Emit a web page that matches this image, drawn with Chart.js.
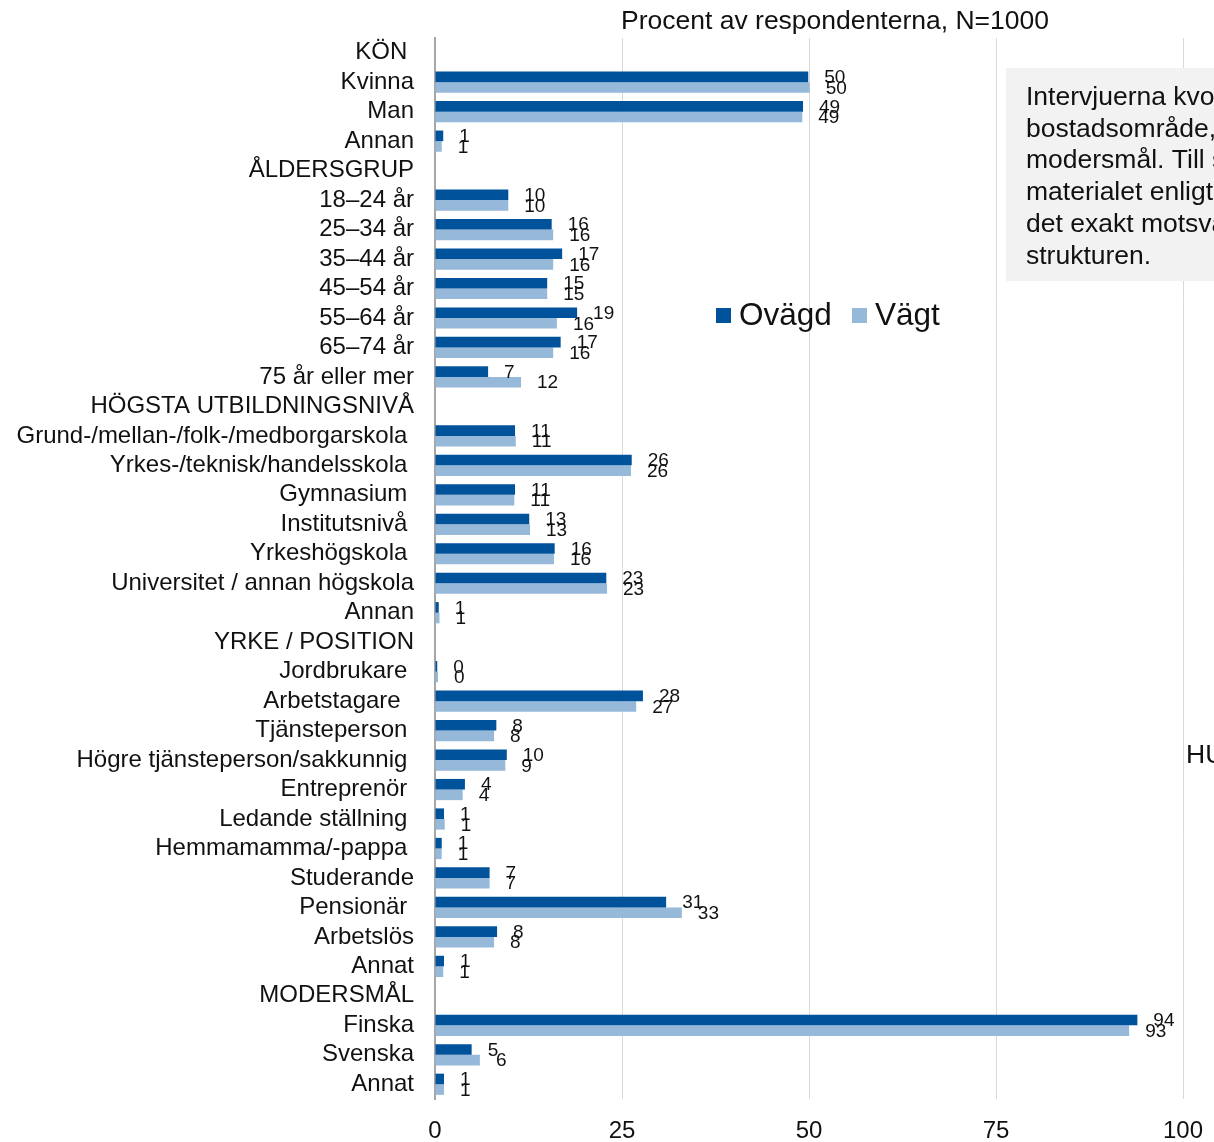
<!DOCTYPE html>
<html>
<head>
<meta charset="utf-8">
<script src="https://cdn.jsdelivr.net/npm/chart.js@4"></script>
<style>
html,body{margin:0;padding:0;background:#fff;overflow:hidden;}
#wrap{width:1214px;height:1142px;position:relative;}
</style>
</head>
<body>
<div id="wrap"><canvas id="c" width="1214" height="1142"></canvas></div>
<script>
const categories = [
  "KÖN ", "Kvinna", "Man", "Annan",
  "ÅLDERSGRUP", "18–24 år", "25–34 år", "35–44 år", "45–54 år", "55–64 år", "65–74 år", "75 år eller mer",
  "HÖGSTA UTBILDNINGSNIVÅ", "Grund-/mellan-/folk-/medborgarskola ", "Yrkes-/teknisk/handelsskola ", "Gymnasium ",
  "Institutsnivå ", "Yrkeshögskola ", "Universitet / annan högskola", "Annan",
  "YRKE / POSITION", "Jordbrukare ", "Arbetstagare  ", "Tjänsteperson ", "Högre tjänsteperson/sakkunnig ",
  "Entreprenör ", "Ledande ställning ", "Hemmamamma/-pappa ", "Studerande", "Pensionär ", "Arbetslös", "Annat",
  "MODERSMÅL", "Finska", "Svenska", "Annat"
];
const ovagd = [null,49.9,49.2,1.1, null,9.8,15.6,17.0,15.0,19.0,16.8,7.1,
  null,10.7,26.3,10.7,12.6,16.0,22.9,0.5,
  null,0.3,27.8,8.2,9.6,4.0,1.2,0.9,7.3,30.9,8.3,1.2,
  null,93.9,4.9,1.2];
const vagt = [null,50.1,49.1,0.9, null,9.8,15.8,15.8,15.0,16.3,15.8,11.5,
  null,10.8,26.2,10.6,12.7,15.9,23.0,0.6,
  null,0.4,26.9,7.9,9.4,3.7,1.3,0.9,7.3,33.0,7.9,1.1,
  null,92.8,6.0,1.2];
const seriesNames = ["Ovägd", "Vägt"];
const xTicks = [0, 25, 50, 75, 100];
const titleText = "Procent av respondenterna, N=1000";
const noteLines = ["Intervjuerna kvoterades", "bostadsområde, ålder,", "modersmål. Till slut", "materialet enligt", "det exakt motsvarar", "strukturen."];
const sideText = "HU";

const DARK = "#00529b";
const LIGHT = "#96b9da";
const FONT = "'Liberation Sans', Arial, sans-serif";

const extras = {
  id: 'extras',
  afterDatasetsDraw(chart) {
    const ctx = chart.ctx;
    ctx.save();
    // data labels
    ctx.font = "19px " + FONT;
    ctx.fillStyle = "#111";
    ctx.textAlign = "left";
    ctx.textBaseline = "middle";
    chart.data.datasets.forEach((ds, di) => {
      const meta = chart.getDatasetMeta(di);
      meta.data.forEach((bar, i) => {
        const v = ds.data[i];
        if (v === null || v === undefined) return;
        ctx.fillText(String(Math.round(v)), bar.x + 16, bar.y + 1);
      });
    });
    // title
    ctx.font = "26.5px " + FONT;
    ctx.textAlign = "center";
    ctx.fillText(titleText, 835, 22);
    // legend
    ctx.font = "31.5px " + FONT;
    ctx.textAlign = "left";
    ctx.fillStyle = DARK;
    ctx.fillRect(716, 308, 15, 15);
    ctx.fillStyle = "#111";
    ctx.fillText(seriesNames[0], 739, 316);
    ctx.fillStyle = LIGHT;
    ctx.fillRect(852, 308, 15, 15);
    ctx.fillStyle = "#111";
    ctx.fillText(seriesNames[1], 875, 316);
    // note box
    ctx.fillStyle = "#f2f2f2";
    ctx.fillRect(1006, 68, 260, 213);
    ctx.fillStyle = "#111";
    ctx.font = "26.5px " + FONT;
    noteLines.forEach((t, k) => ctx.fillText(t, 1026, 97.5 + k * 31.8));
    ctx.fillText(sideText, 1186, 756);
    ctx.restore();
  }
};

new Chart(document.getElementById('c'), {
  type: 'bar',
  data: {
    labels: categories,
    datasets: [
      { label: seriesNames[0], data: ovagd, backgroundColor: DARK, borderWidth: 0 },
      { label: seriesNames[1], data: vagt, backgroundColor: LIGHT, borderWidth: 0 }
    ]
  },
  options: {
    indexAxis: 'y',
    responsive: false,
    animation: false,
    devicePixelRatio: 1,
    categoryPercentage: 0.72,
    barPercentage: 1.0,
    layout: { padding: { top: 38, right: 31, left: 0, bottom: 0 } },
    plugins: { legend: { display: false }, tooltip: { enabled: false }, title: { display: false } },
    scales: {
      x: {
        min: 0, max: 100,
        afterBuildTicks(scale) { scale.ticks = xTicks.map(v => ({ value: v })); },
        afterFit(scale) { scale.height = 43; scale.paddingRight = 0; scale.paddingLeft = 0; },
        grid: { color: '#d9d9d9', lineWidth: 1, drawTicks: false },
        border: { display: false },
        ticks: { font: { size: 24, family: FONT }, color: '#111', padding: 18, maxRotation: 0 }
      },
      y: {
        afterFit(scale) { scale.width = 435; },
        grid: { display: false, drawTicks: false },
        border: { display: true, color: '#a6a6a6', width: 2 },
        ticks: { font: { size: 24, family: FONT }, color: '#111', padding: 21, autoSkip: false }
      }
    }
  },
  plugins: [extras]
});
</script>
</body>
</html>
